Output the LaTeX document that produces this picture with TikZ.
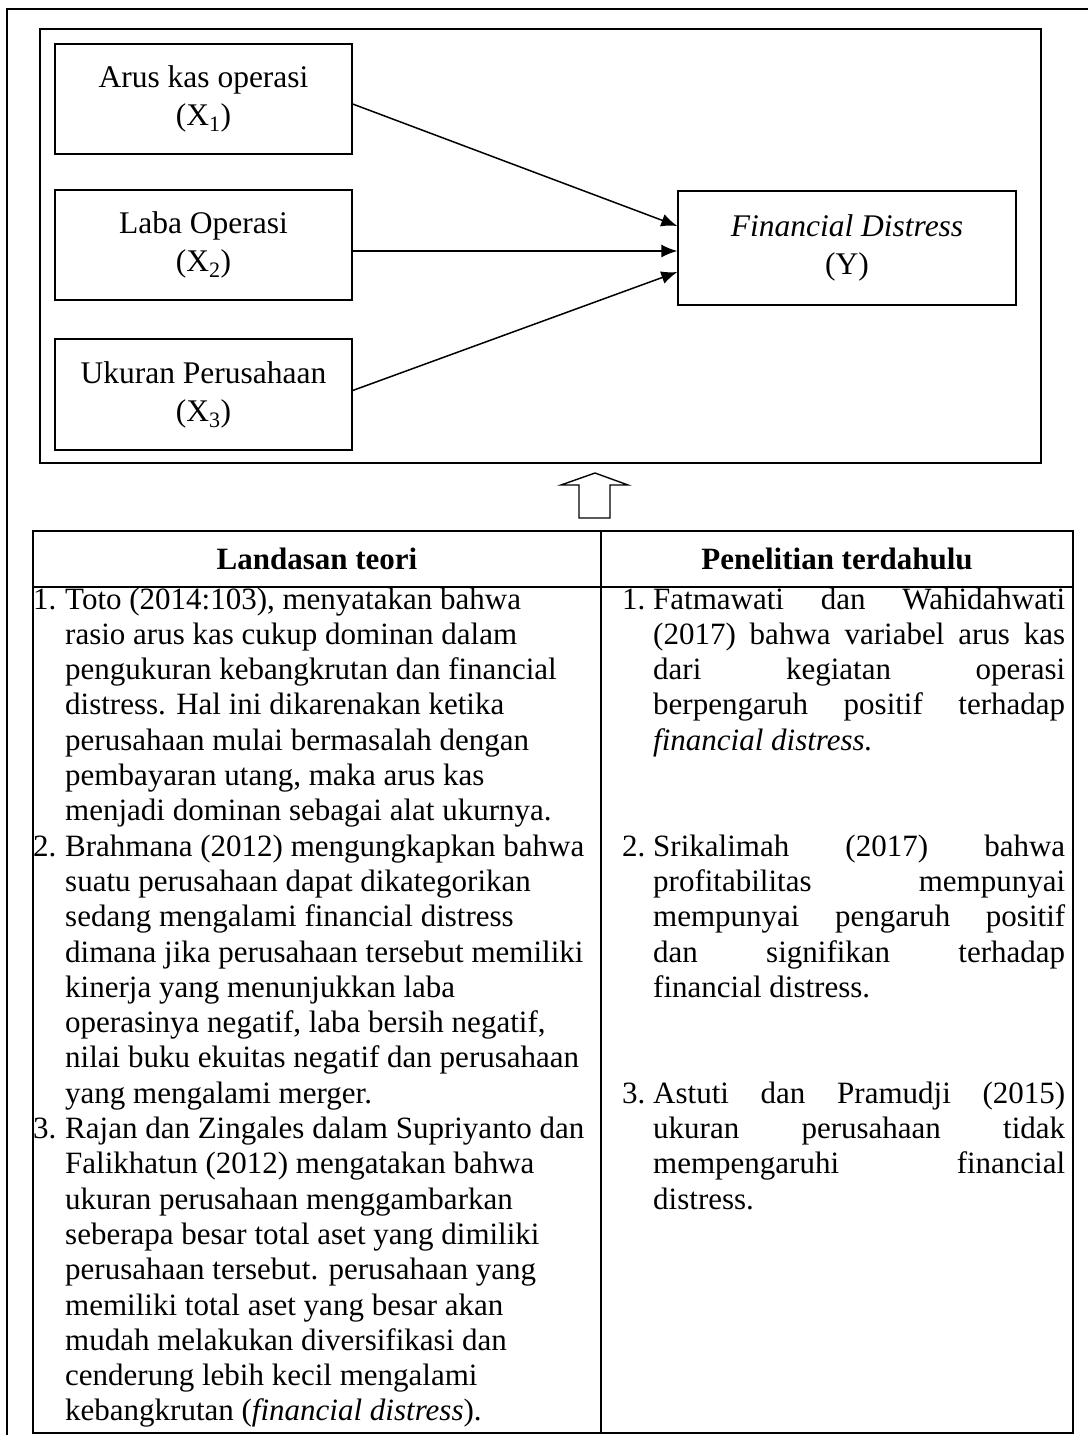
\documentclass[tikz,border=0pt]{standalone}
\usepackage{fontspec}
\setmainfont{Liberation Serif}
\usetikzlibrary{arrows.meta,calc}
\newcommand{\jline}[1]{\makebox[412pt][s]{#1}}
\begin{document}
\begin{tikzpicture}[x=1pt,y=-1pt,
  box/.style={draw,line width=1.4pt,minimum width=297pt,minimum height=110pt,align=center,font=\fontsize{31.5}{38}\selectfont,inner sep=0pt},
  conn/.style={line width=1.5pt,-{Latex[length=16pt,width=13pt]}},
  frame/.style={line width=2pt},
  grid/.style={line width=2.4pt},
  txt/.style={anchor=base west,inner sep=0pt,font=\fontsize{31}{35.3}\selectfont},
  hdr/.style={inner sep=0pt,font=\fontsize{31}{35.3}\selectfont\bfseries}
]
\useasboundingbox (0,0) rectangle (1088,1435);
% frames
\draw[frame] (7,1435) -- (7,9) -- (1088,9);
\draw[frame] (40,29) rectangle (1041,463);
% boxes
\node[box] (X1) at (203.5,99) {Arus kas operasi\\(X\textsubscript{1})};
\node[box] (X2) at (203.5,245) {Laba Operasi\\(X\textsubscript{2})};
\node[box,minimum height=111pt] (X3) at (203.5,394.5) {Ukuran Perusahaan\\(X\textsubscript{3})};
\node[box,minimum width=338pt,minimum height=114pt] (Y) at (847,248) {\textit{Financial Distress}\\(Y)};
\draw[conn] ($(X1.east)+(0,5)$) -- ($(Y.west)+(0,-22)$);
\draw[conn] ($(X2.east)+(0,6)$) -- ($(Y.west)+(0,3)$);
\draw[conn] ($(X3.east)+(0,-4)$) -- ($(Y.west)+(0,24)$);
% hollow arrow
\draw[line width=1.4pt] (579,518) -- (579,485) -- (561,485) -- (595,473) -- (628,485) -- (610,485) -- (610,518) -- cycle;
% table
\draw[grid] (33,531) rectangle (1073,1433);
\draw[grid] (33,587) -- (1073,587);
\draw[grid] (601,531) -- (601,1433);
\node[hdr] (h1) at (317,559) {Landasan teori};
\node[hdr] (h2) at (837,559) {Penelitian terdahulu};
% left column
\node[txt] (n1) at (33,609) {1.};
\node[txt] (n2) at (33,{609+35.3*7}) {2.};
\node[txt] (n3) at (33,{609+35.3*15}) {3.};
\foreach \t [count=\i from 0] in {
 {Toto (2014:103), menyatakan bahwa},
 {rasio arus kas cukup dominan dalam},
 {pengukuran kebangkrutan dan financial},
 {distress. Hal ini dikarenakan ketika},
 {perusahaan mulai bermasalah dengan},
 {pembayaran utang, maka arus kas},
 {menjadi dominan sebagai alat ukurnya.},
 {Brahmana (2012) mengungkapkan bahwa},
 {suatu perusahaan dapat dikategorikan},
 {sedang mengalami financial distress},
 {dimana jika perusahaan tersebut memiliki},
 {kinerja yang menunjukkan laba},
 {operasinya negatif, laba bersih negatif,},
 {nilai buku ekuitas negatif dan perusahaan},
 {yang mengalami merger.},
 {Rajan dan Zingales dalam Supriyanto dan},
 {Falikhatun (2012) mengatakan bahwa},
 {ukuran perusahaan menggambarkan},
 {seberapa besar total aset yang dimiliki},
 {perusahaan tersebut. perusahaan yang},
 {memiliki total aset yang besar akan},
 {mudah melakukan diversifikasi dan},
 {cenderung lebih kecil mengalami},
 {kebangkrutan (\textit{financial distress}).}}
 \node[txt] (L\i) at (65,{609+35.3*\i}) {\t};
% right column
\node[txt] (r1) at (622,609) {1.};
\node[txt] (r2) at (622,{609+35.3*7}) {2.};
\node[txt] (r3) at (622,{609+35.3*14}) {3.};
\foreach \k/\t in {
 0/{\jline{Fatmawati dan Wahidahwati}},
 1/{\jline{(2017) bahwa variabel arus kas}},
 2/{\jline{dari kegiatan operasi}},
 3/{\jline{berpengaruh positif terhadap}},
 4/{\textit{financial distress.}},
 7/{\jline{Srikalimah (2017) bahwa}},
 8/{\jline{profitabilitas mempunyai}},
 9/{\jline{mempunyai pengaruh positif}},
 10/{\jline{dan signifikan terhadap}},
 11/{financial distress.},
 14/{\jline{Astuti dan Pramudji (2015)}},
 15/{\jline{ukuran perusahaan tidak}},
 16/{\jline{mempengaruhi financial}},
 17/{distress.}}
 \node[txt] (R\k) at (653,{609+35.3*\k}) {\t};
\end{tikzpicture}
\end{document}
